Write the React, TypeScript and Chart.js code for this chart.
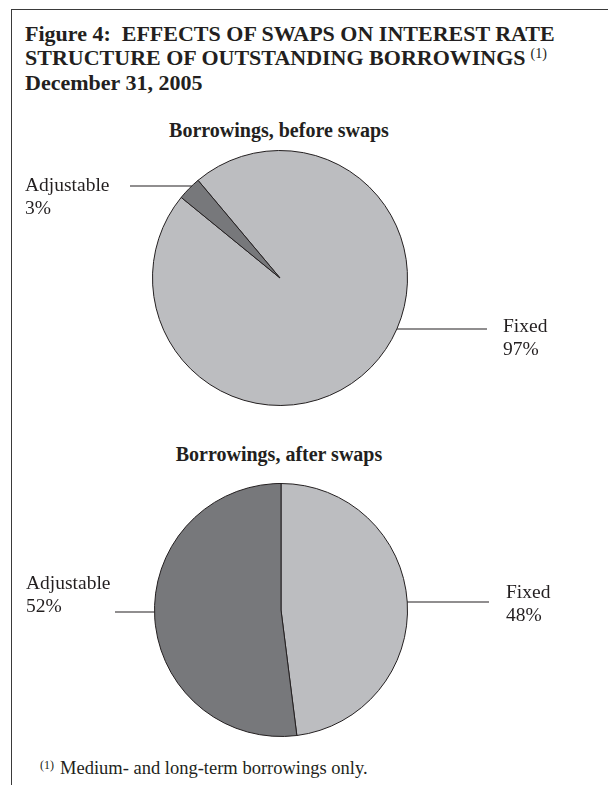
import React, { useEffect, useRef } from 'react';
import { Chart, registerables } from 'chart.js';

Chart.register(...registerables);

// ---- data ----
const categories = ['Fixed', 'Adjustable'];
const beforeSwaps = [97, 3];
const afterSwaps = [48, 52];
const sliceColors = ['#bcbdc0', '#77787b'];
const titleLines = [
  'Figure 4:\u00a0\u00a0EFFECTS OF SWAPS ON INTEREST RATE',
  'STRUCTURE OF OUTSTANDING BORROWINGS',
  'December 31, 2005',
];
const subtitleBefore = 'Borrowings, before swaps';
const subtitleAfter = 'Borrowings, after swaps';
const footnote = 'Medium- and long-term borrowings only.';

const INK = '#231f20';
const FONT = '"Liberation Serif", "DejaVu Serif", serif';

type LabelItem = {
  index: number;
  side: 'left' | 'right';
  lineY: number;
  lineTo: number;
  textX: number;
  textY: [number, number];
};

const sliceLabelPlugin = {
  id: 'sliceLabels',
  afterDraw(chart: any, _args: any, opts: any) {
    const items: LabelItem[] = opts.items || [];
    const meta = chart.getDatasetMeta(0);
    const arc = meta.data[0];
    if (!arc) return;
    const { x: cx, y: cy, outerRadius: r } = arc.getProps(['x', 'y', 'outerRadius'], true);
    const ctx = chart.ctx;
    const labels = chart.data.labels;
    const values = chart.data.datasets[0].data;
    ctx.save();
    ctx.strokeStyle = INK;
    ctx.lineWidth = 1.2;
    ctx.fillStyle = INK;
    ctx.font = `19.5px ${FONT}`;
    ctx.textAlign = 'left';
    ctx.textBaseline = 'middle';
    items.forEach((it) => {
      const dy = it.lineY - cy;
      const dx = Math.sqrt(Math.max(r * r - dy * dy, 0));
      const edgeX = it.side === 'left' ? cx - dx : cx + dx;
      ctx.beginPath();
      ctx.moveTo(edgeX, it.lineY);
      ctx.lineTo(it.lineTo, it.lineY);
      ctx.stroke();
      ctx.fillText(String(labels[it.index]), it.textX, it.textY[0]);
      ctx.fillText(`${values[it.index]}%`, it.textX, it.textY[1]);
    });
    ctx.restore();
  },
};

function PieChart(props: {
  values: number[];
  rotation: number;
  padding: { left: number; right: number; top: number; bottom: number };
  items: LabelItem[];
  height: number;
  top: number;
}) {
  const ref = useRef<HTMLCanvasElement | null>(null);
  useEffect(() => {
    if (!ref.current) return;
    const chart = new Chart(ref.current, {
      type: 'pie',
      data: {
        labels: categories,
        datasets: [
          {
            data: props.values,
            backgroundColor: sliceColors,
            borderColor: INK,
            borderWidth: 1,
          },
        ],
      },
      options: {
        animation: false,
        responsive: false,
        maintainAspectRatio: false,
        rotation: props.rotation,
        layout: { padding: props.padding },
        plugins: {
          legend: { display: false },
          tooltip: { enabled: false },
          title: { display: false },
          sliceLabels: { items: props.items },
        } as any,
      },
      plugins: [sliceLabelPlugin],
    });
    return () => chart.destroy();
  }, []);
  return (
    <canvas
      ref={ref}
      width={608}
      height={props.height}
      style={{ position: 'absolute', left: 0, top: props.top, width: 608, height: props.height }}
    />
  );
}

export default function App() {
  const titleStyle: React.CSSProperties = {
    position: 'absolute',
    left: 25,
    fontFamily: FONT,
    fontWeight: 'bold',
    fontSize: 22,
    color: INK,
    lineHeight: '24px',
    whiteSpace: 'nowrap',
  };
  const subStyle: React.CSSProperties = {
    position: 'absolute',
    left: 0,
    width: 558,
    textAlign: 'center',
    fontFamily: FONT,
    fontWeight: 'bold',
    fontSize: 20,
    color: INK,
    lineHeight: '22px',
    whiteSpace: 'nowrap',
  };
  const topCanvas = 140;
  const botCanvas = 470;
  return (
    <div style={{ position: 'absolute', left: 0, top: 0, width: 608, height: 785, background: '#fff', overflow: 'hidden' }}>
      <div style={{ position: 'absolute', left: 11, top: 9, width: 597, height: 0, borderTop: '1.5px solid #3a3a3a' }} />
      <div style={{ position: 'absolute', left: 11, top: 9, width: 0, height: 776, borderLeft: '1.5px solid #3a3a3a' }} />
      <div style={{ ...titleStyle, top: 22 }}>{titleLines[0]}</div>
      <div style={{ ...titleStyle, top: 46 }}>
        {titleLines[1]}
        <sup style={{ fontSize: 14, fontWeight: 'normal', marginLeft: 5, verticalAlign: 'top', position: 'relative', top: -4 }}>(1)</sup>
      </div>
      <div style={{ ...titleStyle, top: 71 }}>{titleLines[2]}</div>

      <div style={{ ...subStyle, top: 119 }}>{subtitleBefore}</div>
      <PieChart
        values={beforeSwaps}
        rotation={-40}
        top={topCanvas}
        height={285}
        padding={{ left: 152, right: 200, top: 10, bottom: 19 }}
        items={[
          { index: 1, side: 'left', lineY: 186 - topCanvas, lineTo: 130, textX: 25, textY: [186 - topCanvas, 209 - topCanvas] },
          { index: 0, side: 'right', lineY: 329 - topCanvas, lineTo: 487, textX: 503, textY: [327 - topCanvas, 350 - topCanvas] },
        ]}
      />

      <div style={{ ...subStyle, top: 443 }}>{subtitleAfter}</div>
      <PieChart
        values={afterSwaps}
        rotation={0}
        top={botCanvas}
        height={285}
        padding={{ left: 154, right: 200, top: 13, bottom: 18 }}
        items={[
          { index: 1, side: 'left', lineY: 612 - botCanvas, lineTo: 115, textX: 26, textY: [584 - botCanvas, 607 - botCanvas] },
          { index: 0, side: 'right', lineY: 602 - botCanvas, lineTo: 489, textX: 506, textY: [593 - botCanvas, 616 - botCanvas] },
        ]}
      />

      <div style={{ position: 'absolute', left: 40, top: 757, fontFamily: FONT, fontSize: 18.5, color: INK, whiteSpace: 'nowrap', lineHeight: '22px' }}>
        <sup style={{ fontSize: 12, verticalAlign: 'top', position: 'relative', top: -3, marginRight: 6 }}>(1)</sup>
        {footnote}
      </div>
    </div>
  );
}
